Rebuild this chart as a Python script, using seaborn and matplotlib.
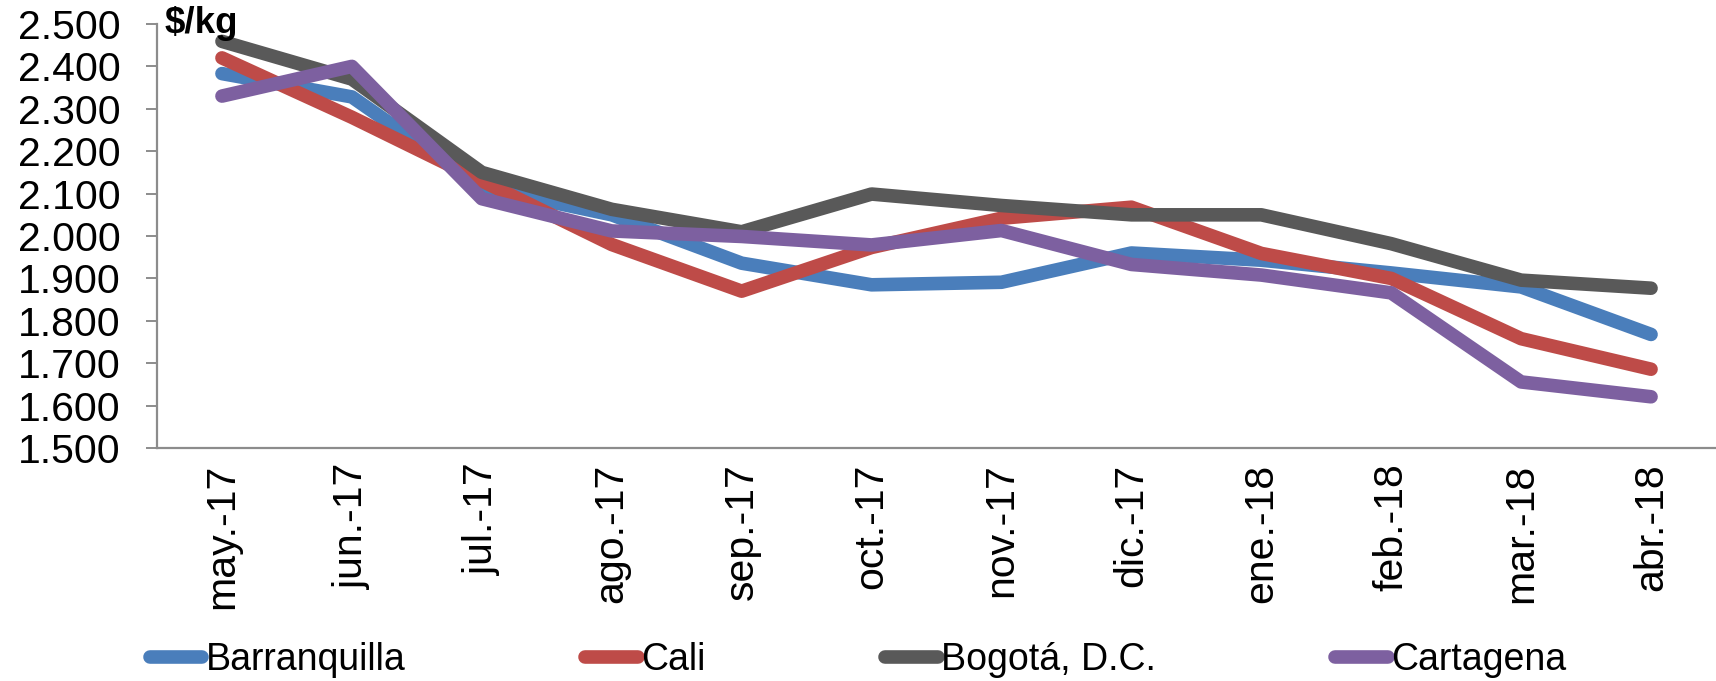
import matplotlib
matplotlib.use("Agg")
import matplotlib.pyplot as plt
import seaborn as sns
import pandas as pd

months = ["may.-17", "jun.-17", "jul.-17", "ago.-17", "sep.-17", "oct.-17",
          "nov.-17", "dic.-17", "ene.-18", "feb.-18", "mar.-18", "abr.-18"]
barranquilla = [2383, 2328, 2115, 2050, 1936, 1885, 1891, 1960, 1943, 1913, 1880, 1768]
cali = [2420, 2280, 2130, 1980, 1870, 1973, 2042, 2068, 1959, 1900, 1758, 1686]
bogota = [2459, 2370, 2150, 2063, 2010, 2099, 2072, 2050, 2050, 1982, 1896, 1877]
cartagena = [2330, 2400, 2088, 2012, 1999, 1979, 2013, 1933, 1908, 1866, 1656, 1621]
series_names = ["Barranquilla", "Cali", "Bogotá, D.C.", "Cartagena"]
colors = ["#4A7EBB", "#BE4B48", "#595959", "#7D60A0"]
yticks = [1500, 1600, 1700, 1800, 1900, 2000, 2100, 2200, 2300, 2400, 2500]
ytick_labels = ["1.500", "1.600", "1.700", "1.800", "1.900", "2.000", "2.100",
                "2.200", "2.300", "2.400", "2.500"]

df = pd.DataFrame({
    "mes": months * 4,
    "valor": barranquilla + cali + bogota + cartagena,
    "ciudad": sum([[n] * len(months) for n in series_names], []),
})

sns.set_style("white")
plt.rcParams["font.family"] = ["Liberation Sans", "DejaVu Sans"]
plt.rcParams["text.color"] = "black"
plt.rcParams["xtick.color"] = "black"
plt.rcParams["ytick.color"] = "black"

LW = 9.8

fig = plt.figure(figsize=(17.16, 6.81), dpi=100)
ax = fig.add_axes([0.0915, 0.342, 0.9085, 0.6228])

sns.lineplot(data=df, x="mes", y="valor", hue="ciudad", hue_order=series_names,
             palette=colors, linewidth=LW, ax=ax, legend=False, sort=False)
for ln in ax.get_lines():
    ln.set_solid_capstyle("round")
    ln.set_solid_joinstyle("round")

ax.set_xlim(-0.5, len(months) - 0.5)
ax.set_ylim(1500, 2500)
ax.set_yticks(yticks)
ax.set_yticklabels(ytick_labels)
ax.set_xticks(range(len(months)))
ax.set_xticklabels(months, rotation=90, va="top", ha="center")
ax.set_xlabel("")
ax.set_ylabel("")

axis_color = "#8C8C8C"
for s in ["top", "right"]:
    ax.spines[s].set_visible(False)
for s in ["left", "bottom"]:
    ax.spines[s].set_color(axis_color)
    ax.spines[s].set_linewidth(1.6)
ax.tick_params(axis="y", which="major", length=8, width=1.4, color=axis_color,
               labelcolor="black", direction="out", left=True, labelsize=29.5, pad=18)
ax.tick_params(axis="x", which="major", length=0, labelsize=29.5, pad=11,
               labelcolor="black")

fig.text(0.096, 0.951, "$/kg", fontsize=26.5, fontweight="bold",
         ha="left", va="baseline", color="black")

handles = [plt.Line2D([], [], color=c, linewidth=LW, solid_capstyle="round")
           for c in colors]
leg = fig.legend(handles, series_names, loc="center", bbox_to_anchor=(0.5, 0.031),
                 ncol=4, frameon=False, fontsize=27, handlelength=1.4,
                 handletextpad=0.08, columnspacing=4.8, borderaxespad=0,
                 borderpad=0)

fig.savefig("out.png", dpi=100)
